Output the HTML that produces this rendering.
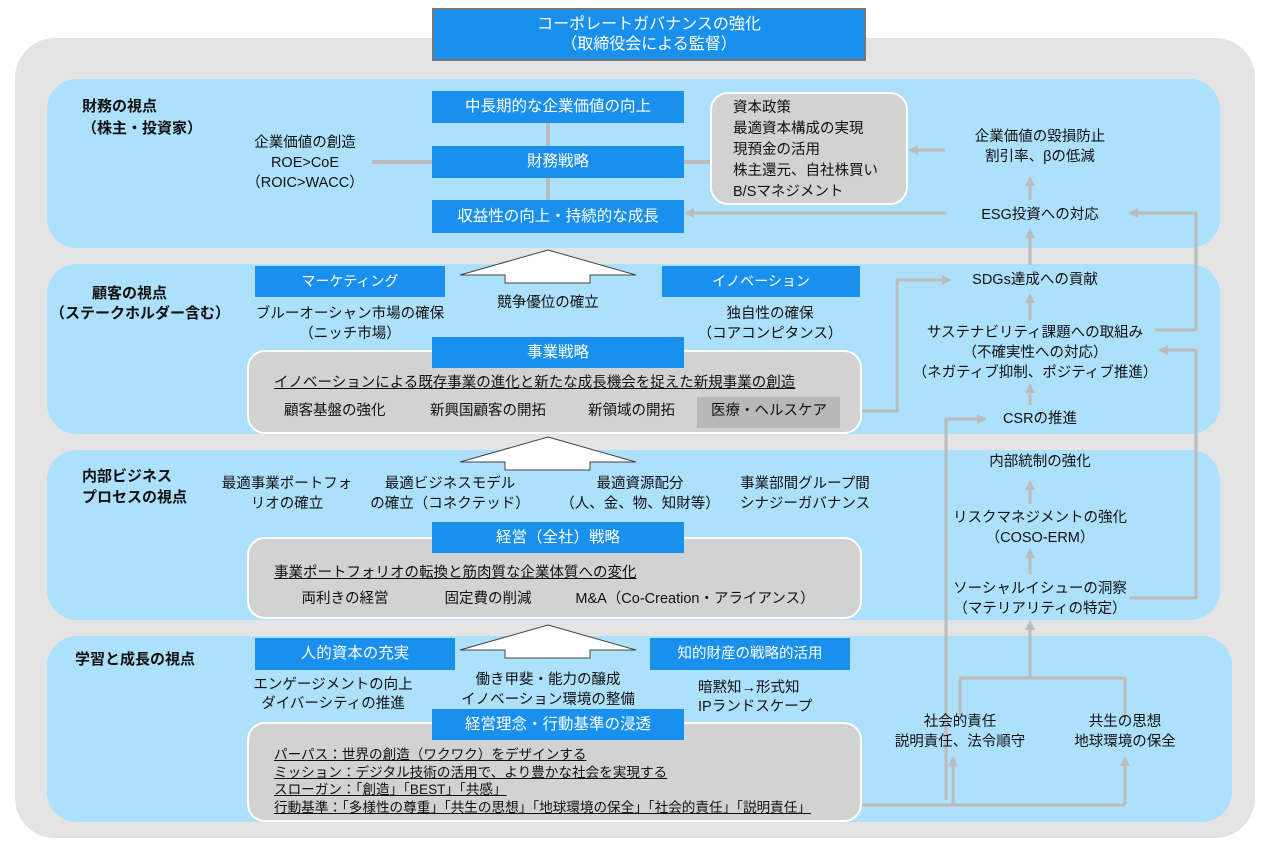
<!DOCTYPE html>
<html><head><meta charset="utf-8"><style>
*{margin:0;padding:0;box-sizing:border-box}
body{width:1270px;height:850px;background:#fff;position:relative;overflow:hidden;font-family:"Liberation Sans","Noto Sans CJK JP",sans-serif;color:#111;font-size:14.5px}
.a{position:absolute}
.band{position:absolute;background:#ade0fb;border-radius:30px}
.bb{position:absolute;background:#1a90ee;color:#fff;text-align:center;font-size:15.5px}
.gb{position:absolute;background:#d2d2d2;border:2px solid #fff;border-radius:18px}
.c{position:absolute;text-align:center;line-height:20px;white-space:nowrap}
.l{position:absolute;line-height:20px;white-space:nowrap}
u{text-decoration:underline}
</style></head><body>
<div class="a" style="left:15px;top:38px;width:1240px;height:800px;background:#e4e4e4;border-radius:40px"></div>
<div class="band" style="left:47px;top:79px;width:1173px;height:169px"></div>
<div class="band" style="left:47px;top:264px;width:1173px;height:170px"></div>
<div class="band" style="left:47px;top:450px;width:1173px;height:170px"></div>
<div class="band" style="left:47px;top:636px;width:1185px;height:186px"></div>

<div class="bb" style="left:432px;top:8px;width:434px;height:53px;border:2px solid #777;line-height:20px;padding-top:5px;font-size:16px">コーポレートガバナンスの強化<br>（取締役会による監督）</div>

<svg class="a" style="left:0;top:0" width="1270" height="850">
<defs>
<marker id="m2" markerWidth="10" markerHeight="10" refX="8" refY="5" orient="auto" markerUnits="userSpaceOnUse"><path d="M0,0 L10,5 L0,10z" fill="#bbb"/></marker></defs>
<g stroke="#bbb" stroke-width="4" fill="none">
<line x1="548" y1="123" x2="548" y2="146"/><line x1="548" y1="178" x2="548" y2="200"/>
<line x1="372" y1="162" x2="432" y2="162"/><line x1="684" y1="162" x2="712" y2="162"/>
</g>
<g stroke="#bbb" stroke-width="3" fill="none" marker-end="url(#m2)">
<line x1="947" y1="213" x2="686" y2="213"/>
<line x1="945" y1="150" x2="910" y2="150"/>
<line x1="1030" y1="200" x2="1030" y2="178"/>
<line x1="1030" y1="265" x2="1030" y2="230"/>
<line x1="1030" y1="320" x2="1030" y2="295"/>
<line x1="1030" y1="405" x2="1030" y2="385"/>
<polyline points="840,411 897,411 897,280 950,280"/>
<polyline points="946,800 946,419 985,419"/>
<polyline points="1155,330 1196,330 1196,213 1130,213"/>
<polyline points="1130,598 1196,598 1196,350 1160,350"/>
<line x1="1030" y1="504" x2="1030" y2="482"/>
<line x1="1030" y1="574" x2="1030" y2="550"/>
<line x1="1030" y1="678" x2="1030" y2="622"/>
<line x1="953" y1="805" x2="953" y2="758"/>
<line x1="1125" y1="805" x2="1125" y2="758"/>
</g>
<g stroke="#bbb" stroke-width="3" fill="none">
<polyline points="960,715 960,678 1125,678 1125,715"/>
<line x1="835" y1="805" x2="1125" y2="805"/>
</g>
<g fill="#fff" stroke="#444" stroke-width="1">
<polygon points="548,250 636,275 590,275 590,283 505,283 505,275 460,275"/>
<polygon points="548,437 636,462 590,462 590,470 505,470 505,462 460,462"/>
<polygon points="548,625 636,650 590,650 590,658 505,658 505,650 460,650"/>
</g>
</svg>

<!-- band 1 -->
<div class="l" style="left:82px;top:96px;font-weight:bold;font-size:15px;line-height:22px">財務の視点<br>（株主・投資家）</div>
<div class="c" style="left:230px;top:133px;width:150px">企業価値の創造<br>ROE&gt;CoE<br>（ROIC&gt;WACC）</div>
<div class="bb" style="left:432px;top:91px;width:252px;height:32px;line-height:32px">中長期的な企業価値の向上</div>
<div class="bb" style="left:432px;top:146px;width:252px;height:32px;line-height:32px">財務戦略</div>
<div class="bb" style="left:432px;top:200px;width:252px;height:33px;line-height:33px">収益性の向上・持続的な成長</div>
<div class="gb" style="left:710px;top:92px;width:198px;height:113px"></div>
<div class="l" style="left:733px;top:98px;line-height:21px">資本政策<br>最適資本構成の実現<br>現預金の活用<br>株主還元、自社株買い<br>B/Sマネジメント</div>
<div class="c" style="left:940px;top:127px;width:200px">企業価値の毀損防止<br>割引率、βの低減</div>
<div class="c" style="left:940px;top:205px;width:200px">ESG投資への対応</div>

<!-- band 2 -->
<div class="l" style="left:92px;top:283px;font-weight:bold;font-size:15px;line-height:21px">顧客の視点</div>
<div class="l" style="left:50px;top:303px;font-weight:bold;font-size:15px;line-height:21px">（ステークホルダー含む）</div>
<div class="bb" style="left:255px;top:266px;width:190px;height:31px;line-height:31px;font-size:14px">マーケティング</div>
<div class="bb" style="left:662px;top:266px;width:198px;height:31px;line-height:31px;font-size:14px">イノベーション</div>
<div class="c" style="left:458px;top:293px;width:180px">競争優位の確立</div>
<div class="c" style="left:240px;top:304px;width:220px">ブルーオーシャン市場の確保<br>（ニッチ市場）</div>
<div class="c" style="left:680px;top:304px;width:180px">独自性の確保<br>（コアコンピタンス）</div>
<div class="gb" style="left:247px;top:350px;width:615px;height:84px"></div>
<div class="bb" style="left:432px;top:337px;width:252px;height:31px;line-height:31px">事業戦略</div>
<div class="l" style="left:274px;top:373px"><u>イノベーションによる既存事業の進化と新たな成長機会を捉えた新規事業の創造</u></div>
<div class="a" style="left:697px;top:397px;width:143px;height:31px;background:#b8b8b8"></div>
<div class="l" style="left:284px;top:401px">顧客基盤の強化</div>
<div class="l" style="left:430px;top:401px">新興国顧客の開拓</div>
<div class="l" style="left:588px;top:401px">新領域の開拓</div>
<div class="l" style="left:711px;top:401px">医療・ヘルスケア</div>
<div class="c" style="left:935px;top:270px;width:200px">SDGs達成への貢献</div>
<div class="c" style="left:890px;top:323px;width:290px">サステナビリティ課題への取組み<br>（不確実性への対応）<br>（ネガティブ抑制、ポジティブ推進）</div>
<div class="c" style="left:960px;top:409px;width:160px">CSRの推進</div>

<!-- band 3 -->
<div class="l" style="left:82px;top:466px;font-weight:bold;font-size:15px;line-height:21px">内部ビジネス<br>プロセスの視点</div>
<div class="c" style="left:212px;top:474px;width:150px">最適事業ポートフォ<br>リオの確立</div>
<div class="c" style="left:370px;top:474px;width:160px">最適ビジネスモデル<br>の確立（コネクテッド）</div>
<div class="c" style="left:555px;top:474px;width:170px">最適資源配分<br>（人、金、物、知財等）</div>
<div class="c" style="left:720px;top:474px;width:170px">事業部間グループ間<br>シナジーガバナンス</div>
<div class="gb" style="left:247px;top:537px;width:615px;height:82px"></div>
<div class="bb" style="left:432px;top:522px;width:252px;height:31px;line-height:31px">経営（全社）戦略</div>
<div class="l" style="left:274px;top:563px"><u>事業ポートフォリオの転換と筋肉質な企業体質への変化</u></div>
<div class="c" style="left:285px;top:589px;width:120px">両利きの経営</div>
<div class="c" style="left:428px;top:589px;width:120px">固定費の削減</div>
<div class="c" style="left:560px;top:589px;width:270px">M&amp;A（Co-Creation・アライアンス）</div>
<div class="c" style="left:960px;top:452px;width:160px">内部統制の強化</div>
<div class="c" style="left:930px;top:508px;width:220px">リスクマネジメントの強化<br>（COSO-ERM）</div>
<div class="c" style="left:930px;top:579px;width:220px">ソーシャルイシューの洞察<br>（マテリアリティの特定）</div>

<!-- band 4 -->
<div class="l" style="left:75px;top:650px;font-weight:bold;font-size:15px">学習と成長の視点</div>
<div class="bb" style="left:255px;top:638px;width:200px;height:32px;line-height:32px">人的資本の充実</div>
<div class="bb" style="left:650px;top:638px;width:200px;height:32px;line-height:32px;font-size:14.5px">知的財産の戦略的活用</div>
<div class="c" style="left:243px;top:676px;width:180px;line-height:19px">エンゲージメントの向上<br>ダイバーシティの推進</div>
<div class="c" style="left:443px;top:670px;width:210px">働き甲斐・能力の醸成<br>イノベーション環境の整備</div>
<div class="l" style="left:698px;top:679px;line-height:19px">暗黙知→形式知<br>IPランドスケープ</div>
<div class="gb" style="left:247px;top:722px;width:615px;height:100px"></div>
<div class="bb" style="left:432px;top:709px;width:252px;height:31px;line-height:31px">経営理念・行動基準の浸透</div>
<div class="l" style="left:274px;top:746px;font-size:13.6px;line-height:17.7px"><u>パーパス：世界の創造（ワクワク）をデザインする</u><br><u>ミッション：デジタル技術の活用で、より豊かな社会を実現する</u><br><u>スローガン：「創造」「BEST」「共感」</u><br><u>行動基準：「多様性の尊重」「共生の思想」「地球環境の保全」「社会的責任」「説明責任」</u></div>
<div class="c" style="left:875px;top:712px;width:170px">社会的責任<br>説明責任、法令順守</div>
<div class="c" style="left:1050px;top:712px;width:150px">共生の思想<br>地球環境の保全</div>
</body></html>
